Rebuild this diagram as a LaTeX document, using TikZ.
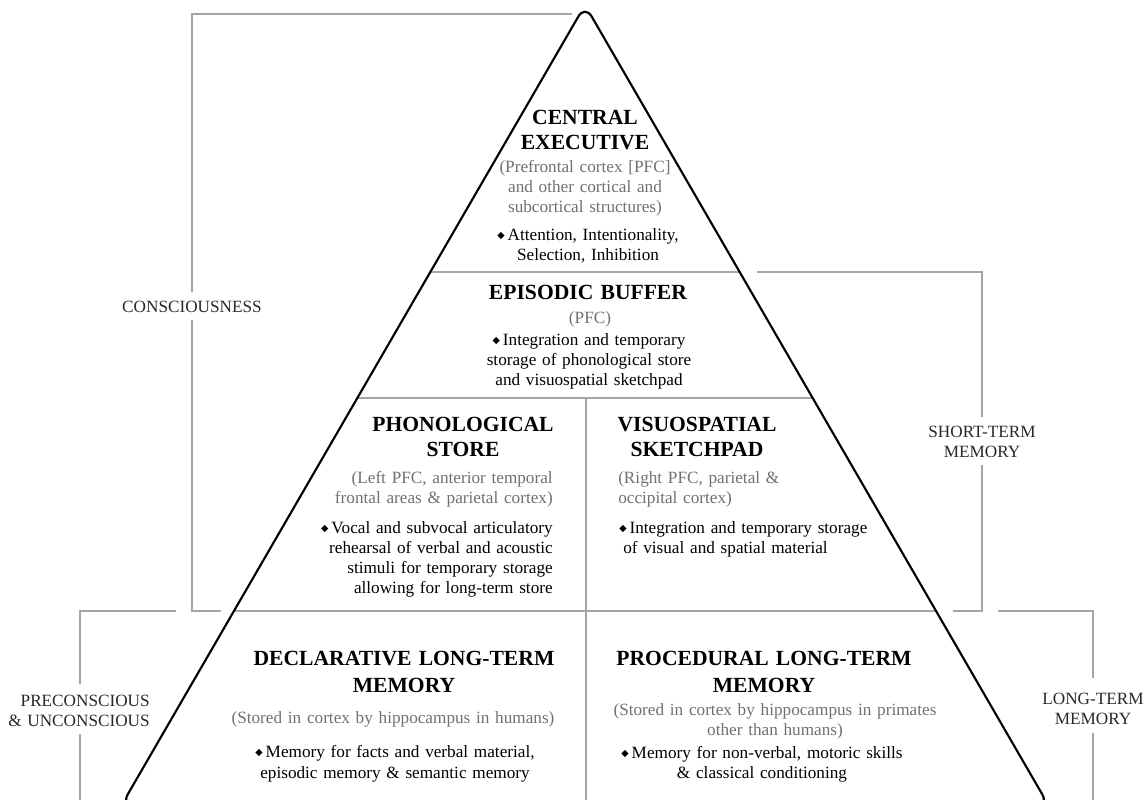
\documentclass[tikz,border=0pt]{standalone}
\usepackage{fontspec}
\setmainfont{Liberation Serif}
\newfontfamily\djv{DejaVu Sans}
\definecolor{linegray}{RGB}{165,165,165}
\definecolor{txtgray}{RGB}{112,112,112}
\definecolor{lblcol}{RGB}{40,40,40}
\newcommand\dmd{\raisebox{1.3pt}{\djv\fontsize{7.2}{7.2}\selectfont ◆}\hspace{2.2pt}}
\begin{document}
\begin{tikzpicture}[x=0.75pt,y=-0.75pt,
  brk/.style={draw=linegray, line width=0.8pt},
  tri/.style={draw=black, line width=1.6pt, rounded corners=10pt},
  ttl/.style={font=\fontsize{16.2}{18.75}\selectfont\bfseries, inner sep=0pt, text width=260pt, align=center, anchor=base},
  gryc/.style={font=\fontsize{12.9}{15}\selectfont, text=txtgray, inner sep=0pt, text width=260pt, align=center, anchor=base},
  bltc/.style={font=\fontsize{12.9}{15}\selectfont, text=black, inner sep=0pt, text width=260pt, align=center, anchor=base},
  lab/.style={font=\fontsize{12.9}{15}\selectfont, text=lblcol, inner sep=0pt, text width=120pt, align=center, anchor=base}]
\useasboundingbox (0,0) rectangle (1147,800);
\clip (0,0) rectangle (1147,800);
% triangle vertices
\coordinate (apex) at (585,5);
\coordinate (bl) at (121,806);
\coordinate (br) at (1049,806);
% outer brackets
\draw[brk] (572,14) -- (192,14) -- (192,292);
\draw[brk] (192,320) -- (192,611) -- (221,611);
\draw[brk] (953,611) -- (982,611) -- (982,465);
\draw[brk] (982,417) -- (982,272) -- (757,272);
\draw[brk] (176,611) -- (80,611) -- (80,684);
\draw[brk] (80,734) -- (80,806);
\draw[brk] (998,611) -- (1093,611) -- (1093,678);
\draw[brk] (1093,733) -- (1093,806);
% inner dividers
\draw[brk] (429,272) -- (741,272);
\draw[brk] (356,398) -- (814,398);
\draw[brk] (233,611) -- (937,611);
\draw[brk] (586,398) -- (586,806);
% triangle
\draw[tri] (585,806) -- (br) -- (apex) -- (bl) -- cycle;
% central executive
\node[ttl] (cet) at (585,124) {CENTRAL\\EXECUTIVE};
\node[gryc] (ceg) at (585,172) {(Prefrontal cortex [PFC]\\and other cortical and\\subcortical structures)};
\node[bltc] (ceb) at (588,240) {\dmd Attention, Intentionality,\\Selection, Inhibition};
% episodic buffer
\node[ttl] (ebt) at (588,299) {EPISODIC BUFFER};
\node[gryc] (ebg) at (590,323) {(PFC)};
\node[bltc] (ebb) at (589,345) {\dmd Integration and temporary\\storage of phonological store\\and visuospatial sketchpad};
% phonological store
\node[ttl] (pht) at (463,431) {PHONOLOGICAL\\STORE};
\node[gryc, align=right, anchor=base east] (phg) at (553,483) {(Left PFC, anterior temporal\\frontal areas \& parietal cortex)};
\node[bltc, align=right, anchor=base east] (phb) at (553,533) {\dmd Vocal and subvocal articulatory\\rehearsal of verbal and acoustic\\stimuli for temporary storage\\allowing for long-term store};
% visuospatial sketchpad
\node[ttl] (vst) at (697,431) {VISUOSPATIAL\\SKETCHPAD};
\node[gryc, align=left, anchor=base west] (vsg) at (618,483) {(Right PFC, parietal \&\\occipital cortex)};
\node[bltc, align=left, anchor=base west] (vsb) at (619,533) {\dmd Integration and temporary storage\\\hspace*{3pt}of visual and spatial material};
% declarative
\node[ttl] (dct) at (404,665) {DECLARATIVE LONG-TERM\\[1.5pt]MEMORY};
\node[gryc] (dcg) at (393,723) {(Stored in cortex by hippocampus in humans)};
\node[bltc] (dcb) at (395,757) {\dmd Memory for facts and verbal material,\\[0.75pt]episodic memory \& semantic memory};
% procedural
\node[ttl] (prt) at (764,665) {PROCEDURAL LONG-TERM\\[1.5pt]MEMORY};
\node[gryc] (prg) at (775,715) {(Stored in cortex by hippocampus in primates\\other than humans)};
\node[bltc] (prb) at (762,758) {\dmd Memory for non-verbal, motoric skills\\\& classical conditioning};
% side labels
\node[lab] (cons) at (192,312) {CONSCIOUSNESS};
\node[lab] (stm) at (982,437) {SHORT-TERM\\MEMORY};
\node[lab, align=right, anchor=base east] (pre) at (150,706) {PRECONSCIOUS\\\& UNCONSCIOUS};
\node[lab] (ltm) at (1093,704) {LONG-TERM\\MEMORY};
\end{tikzpicture}
\end{document}
